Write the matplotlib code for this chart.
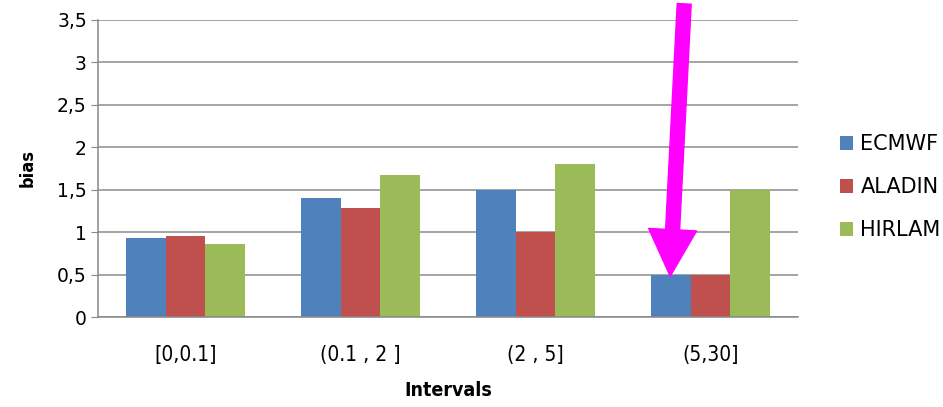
import matplotlib
matplotlib.use("Agg")
import matplotlib.pyplot as plt
import numpy as np

plt.rcParams['font.family'] = ['DejaVu Sans']

# data
intervals = ["[0,0.1]", "(0.1 , 2 ]", "(2 , 5]", "(5,30]"]
ecmwf = [0.93, 1.40, 1.50, 0.50]
aladin = [0.95, 1.28, 1.00, 0.50]
hirlam = [0.86, 1.67, 1.80, 1.50]
models = ["ECMWF", "ALADIN", "HIRLAM"]
colors = ["#4F81BD", "#C0504D", "#9BBB59"]
yticks = [0, 0.5, 1, 1.5, 2, 2.5, 3, 3.5]
ytick_labels = ["0", "0,5", "1", "1,5", "2", "2,5", "3", "3,5"]

fig = plt.figure(figsize=(9.43, 4.07), dpi=100)
ax = fig.add_axes([0.1039, 0.2211, 0.7423, 0.7298])

x = np.arange(len(intervals)) + 0.5
w = 0.225
for i, (vals, name, c) in enumerate(zip([ecmwf, aladin, hirlam], models, colors)):
    ax.bar(x + (i - 1) * w, vals, width=w, color=c, label=name, zorder=2)

ax.set_xlim(0, len(intervals))
ax.set_ylim(0, 3.5)
ax.set_yticks(yticks)
ax.set_yticklabels(ytick_labels, fontsize=13.5)
ax.set_xticks(x)
ax.set_xticklabels(intervals, fontsize=15, fontstretch="condensed")
ax.tick_params(axis="x", length=0, pad=20)
ax.tick_params(axis="y", length=5, color="#888888", pad=3)
ax.grid(axis="y", color="#8c8c8c", linewidth=1.1, zorder=0)
for s in ["top", "right"]:
    ax.spines[s].set_visible(False)
ax.spines["left"].set_color("#888888")
ax.spines["bottom"].set_color("#888888")
ax.spines["left"].set_linewidth(1.1)
ax.spines["bottom"].set_linewidth(1.1)

ax.set_ylabel("bias", fontsize=13, fontweight="bold", fontstretch="condensed", labelpad=15)
ax.set_xlabel("Intervals", fontsize=14, fontweight="bold", fontstretch="condensed", labelpad=12)

fig.legend(loc="center left", bbox_to_anchor=(0.891, 0.54), frameon=False,
           fontsize=15, handlelength=0.63, handleheight=0.65, handletextpad=0.34,
           labelspacing=1.1, borderpad=0, borderaxespad=0)

# magenta arrow pointing at the (5,30] ECMWF bar
ax.annotate("", xy=(3.27, 0.48), xytext=(3.35, 3.69), annotation_clip=False,
            arrowprops=dict(arrowstyle="simple,head_length=1.4,head_width=1.44,tail_width=0.42",
                            mutation_scale=24, color="#FF00FF", shrinkA=0, shrinkB=0),
            zorder=5)

fig.savefig("out.png", dpi=100)
